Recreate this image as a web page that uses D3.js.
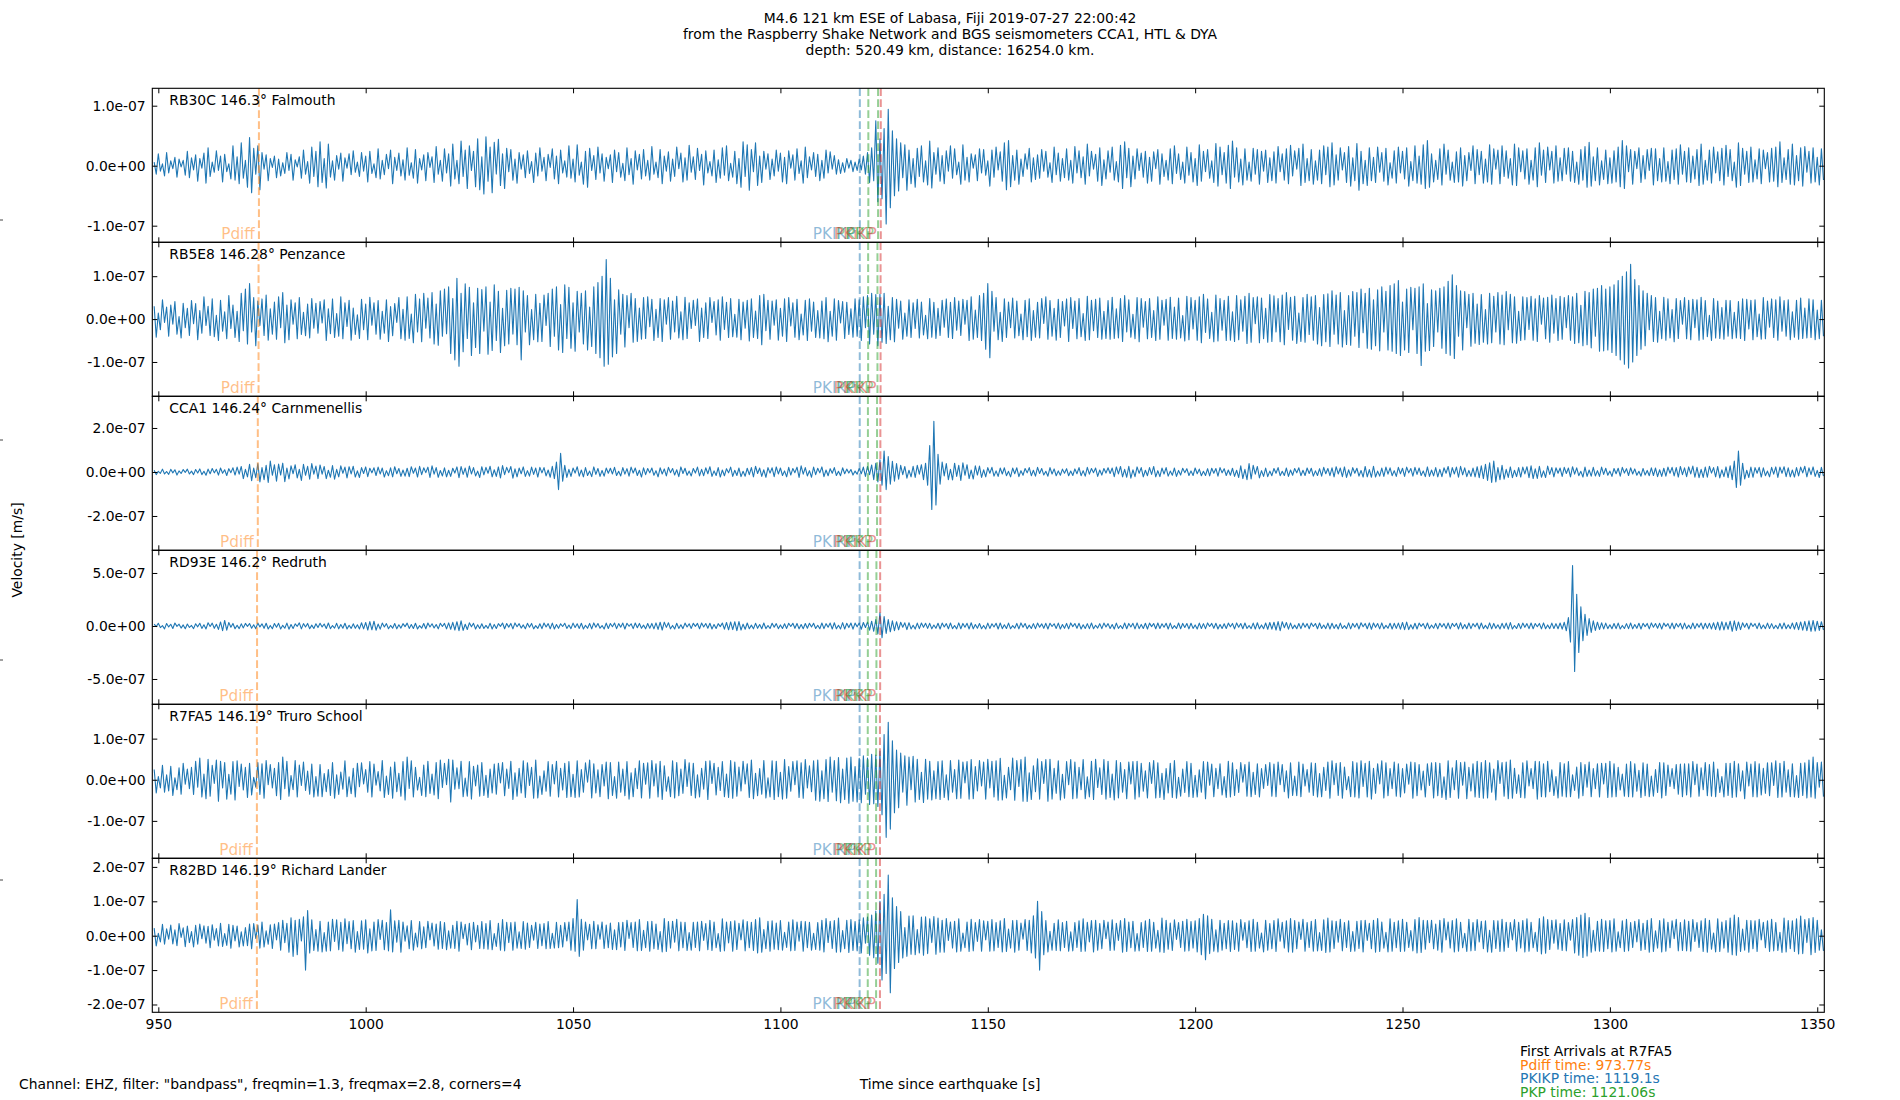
<!DOCTYPE html>
<html>
<head>
<meta charset="utf-8">
<script src="https://cdn.jsdelivr.net/npm/d3@7"></script>
<style>
  body { margin: 0; background: #fff; }
  svg { display: block; font-family: "DejaVu Sans", sans-serif; }
</style>
</head>
<body>
<div id="chart"></div>
<script>
// ---- chart data ----
const titleLines = [
  "M4.6 121 km ESE of Labasa, Fiji 2019-07-27 22:00:42",
  "from the Raspberry Shake Network and BGS seismometers CCA1, HTL & DYA",
  "depth: 520.49 km, distance: 16254.0 km."
];
const stationLabels = [
  "RB30C 146.3° Falmouth",
  "RB5E8 146.28° Penzance",
  "CCA1 146.24° Carnmenellis",
  "RD93E 146.2° Redruth",
  "R7FA5 146.19° Truro School",
  "R82BD 146.19° Richard Lander"
];
const xLimits = [948.55, 1351.7];
const xTicks = [950, 1000, 1050, 1100, 1150, 1200, 1250, 1300, 1350];
// velocity in nm/s (1e-9 m/s)
const yLimits = [[-127.7, 129], [-180, 179], [-356, 344], [-739, 714], [-191, 183.5], [-222.7, 225]];
const yTicks = [[-100, 0, 100], [-100, 0, 100], [-200, 0, 200], [-500, 0, 500], [-100, 0, 100], [-200, -100, 0, 100, 200]];
const yTickLabels = [
  ["-1.0e-07", "0.0e+00", "1.0e-07"],
  ["-1.0e-07", "0.0e+00", "1.0e-07"],
  ["-2.0e-07", "0.0e+00", "2.0e-07"],
  ["-5.0e-07", "0.0e+00", "5.0e-07"],
  ["-1.0e-07", "0.0e+00", "1.0e-07"],
  ["-2.0e-07", "-1.0e-07", "0.0e+00", "1.0e-07", "2.0e-07"]
];
const phaseNames = ["Pdiff", "PKIKP", "PKP", "PKP", "PKiKP"];
const phaseColors = ["#ff7f0e", "#1f77b4", "#2ca02c", "#2ca02c", "#d62728"];
const arrivals = [
  [974.26, 1119.15, 1121.2, 1123.55, 1124.2],
  [974.17, 1119.13, 1121.15, 1123.4, 1124.15],
  [973.99, 1119.12, 1121.1, 1123.3, 1124.1],
  [973.81, 1119.1, 1121.08, 1123.15, 1124.05],
  [973.77, 1119.1, 1121.06, 1123.07, 1124.0],
  [973.77, 1119.1, 1121.06, 1123.07, 1124.0]
];
const arrivalNotes = ["Pdiff time: 973.77s", "PKIKP time: 1119.1s", "PKP time: 1121.06s"];
const arrivalNoteColors = ["#ff7f0e", "#1f77b4", "#2ca02c"];
const footerText = 'Channel: EHZ, filter: "bandpass", freqmin=1.3, freqmax=2.8, corners=4';
const outerTicks = [0.2, 0.4, 0.6, 0.8];

// traces: samples every 0.5 s from 949 s, nm/s
const startTime = 949, sampleStep = 0.5;
const traceRB30C = [
  6,-14,20,-9,3,-17,22,-12,8,-5,14,-19,11,-2,9,-16,24,-20,13,-7,
  18,-26,12,-4,21,-29,30,-18,6,-11,25,-8,16,-27,19,-10,3,-22,33,-24,
  15,-30,38,-21,9,-36,47,-45,29,-14,33,-40,22,-6,18,-25,12,-3,16,-20,
  11,-17,5,-13,22,-8,19,-24,10,-2,15,-21,26,-14,7,-29,31,-18,24,-35,
  40,-28,12,-37,36,-19,8,-24,17,-6,21,-26,13,-4,20,-15,25,-11,6,-18,
  22,-9,16,-27,24,-13,3,-20,28,-22,9,-15,19,-5,26,-30,14,-8,21,-17,
  10,-24,30,-16,5,-21,27,-29,12,-7,18,-25,22,-3,15,-28,32,-14,9,-26,
  28,-12,20,-34,36,-22,9,-30,41,-18,26,-38,33,-8,24,-35,45,-40,15,-47,
  48,-26,31,-45,39,-14,44,-33,20,-38,29,-10,27,-24,11,-29,22,-6,18,-20,
  25,-13,7,-28,21,-17,30,-9,14,-25,19,-3,28,-22,16,-30,26,-12,8,-19,
  33,-21,11,-27,35,-16,6,-31,24,-36,29,-8,17,-23,31,-12,20,-26,14,-5,
  18,-28,26,-10,22,-19,4,-25,30,-15,12,-31,25,-7,19,-22,27,-17,9,-24,
  32,-14,6,-20,27,-30,16,-9,23,-26,11,-18,31,-5,21,-27,13,-24,34,-11,
  15,-23,29,-8,19,-32,25,-12,7,-17,26,-28,10,-21,30,-16,33,-25,4,-19,
  24,-30,12,-36,40,-18,35,-41,27,-10,38,-33,16,-28,24,-6,20,-23,11,-17,
  26,-9,21,-27,14,-30,25,-4,18,-24,28,-13,8,-29,31,-20,15,-7,22,-18,
  19,-25,9,-21,26,-12,23,-6,17,-14,10,-13,5,-11,12,-4,9,-10,6,-8,
  11,-7,16,-14,22,-28,30,-25,75,-60,45,-55,62,-97,94,-70,58,-50,45,-42,
  38,-20,35,-41,26,-30,12,-36,29,-18,33,-27,8,-32,41,-37,22,-14,30,-26,
  17,-30,25,-9,33,-21,28,-15,6,-31,35,-24,14,-27,20,-4,18,-25,28,-12,
  27,-16,8,-34,26,-19,31,-7,23,-26,38,-40,42,-35,17,-24,26,-31,11,-18,
  20,-6,29,-27,13,-23,18,-21,27,-9,24,-19,5,-28,31,-15,21,-26,12,-20,
  28,-24,9,-29,32,-12,25,-20,15,-31,36,-17,24,-6,19,-26,30,-33,10,-22,
  25,-11,31,-24,7,-27,34,-38,40,-20,29,-35,16,-22,28,-8,21,-19,24,-29,
  14,-26,23,-5,27,-31,20,-18,9,-24,28,-30,33,-13,20,-23,6,-29,31,-16,
  22,-27,12,-33,35,-26,24,-10,27,-21,8,-28,37,-34,31,-15,22,-29,34,-38,
  41,-19,30,-27,11,-32,28,-24,6,-26,29,-14,27,-31,24,-9,26,-28,13,-25,
  23,-29,32,-10,20,-24,28,-30,34,-17,25,-6,29,-33,36,-28,12,-25,27,-31,
  8,-24,26,-30,33,-15,31,-35,38,-32,18,-24,30,-7,22,-28,32,-34,13,-25,
  37,-41,24,-30,9,-33,30,-25,14,-28,31,-11,22,-26,29,-32,5,-21,25,-29,
  31,-12,24,-22,30,-34,7,-25,33,-29,16,-31,35,-38,42,-36,20,-27,9,-23,
  28,-32,36,-14,26,-24,6,-28,23,-27,30,-34,17,-25,22,-8,33,-30,27,-15,
  24,-29,11,-27,35,-31,28,-6,26,-30,33,-18,25,-21,12,-32,36,-33,30,-10,
  25,-22,28,-31,9,-24,30,-35,38,-16,26,-28,31,-7,24,-29,33,-26,13,-25,
  29,-14,30,-26,24,-28,6,-31,27,-24,32,-36,39,-34,15,-25,30,-32,8,-23,
  26,-30,13,-29,25,-27,31,-35,42,-38,33,-10,27,-31,24,-5,30,-28,17,-22,
  27,-8,29,-32,28,-25,12,-27,30,-26,7,-30,26,-23,28,-31,35,-14,24,-27,
  30,-28,16,-22,27,-33,36,-31,9,-24,26,-29,31,-12,23,-25,29,-32,34,-18,
  27,-25,6,-36,38,-33,29,-14,24,-28,31,-27,10,-22,28,-30,26,-5,22,-27,
  29,-26,31,-35,40,-28,13,-23,27,-31,36,-32,17,-25,30,-34,32,-11,24,-29,
  30,-27,14,-32,28,-24
];
const traceRB5E8 = [
  30,-42,14,-25,45,-8,28,-40,33,-12,41,-35,6,-44,37,-20,25,-38,43,-11,
  36,-48,20,-33,52,-15,30,-38,47,-41,9,-50,44,-28,17,-46,55,-22,33,-43,
  18,-52,60,-27,70,-58,83,-30,50,-62,42,-15,47,-38,56,-49,24,-35,40,-47,
  52,-20,62,-55,33,-48,45,-12,38,-46,50,-36,16,-39,35,-44,48,-21,37,-33,
  41,-9,45,-50,24,-34,47,-43,13,-40,52,-46,38,-17,44,-49,26,-36,10,-45,
  46,-25,35,-48,51,-14,38,-35,43,-47,18,-33,45,-52,29,-39,36,-8,50,-46,
  23,-49,52,-45,12,-55,58,-30,47,-53,60,-21,49,-44,62,-58,35,-61,66,-40,
  70,-34,75,-80,48,-95,95,-110,60,-76,82,-45,74,-85,38,-66,72,-80,69,-28,
  75,-82,40,-73,80,-50,65,-78,25,-62,67,-58,72,-35,70,-60,74,-95,66,-30,
  55,-60,22,-48,58,-53,37,-52,56,-15,60,-64,70,-40,75,-72,34,-78,80,-45,
  74,-68,38,-75,65,-30,60,-58,66,-72,28,-64,75,-80,85,-90,100,-110,139,-105,
  95,-88,45,-80,68,-35,58,-65,55,-20,60,-54,48,-52,26,-47,50,-45,52,-18,
  46,-50,23,-43,48,-52,45,-12,50,-47,42,-30,53,-44,17,-48,51,-45,38,-22,
  44,-15,47,-52,26,-43,38,-45,50,-8,41,-37,45,-49,52,-24,39,-43,48,-41,
  11,-42,46,-48,40,-21,44,-51,47,-43,19,-45,55,-60,58,-27,44,-47,42,-14,
  45,-49,25,-40,47,-52,50,-16,38,-42,46,-48,12,-37,44,-50,47,-28,40,-43,
  20,-44,42,-46,50,-53,18,-40,47,-49,43,-9,41,-45,39,-36,24,-42,47,-40,
  45,-50,52,-20,55,-58,60,-35,57,-62,58,-54,60,-57,30,-48,50,-53,46,-21,
  42,-47,14,-40,45,-43,38,-22,46,-44,40,-37,9,-46,48,-42,39,-45,25,-38,
  44,-19,47,-43,39,-45,50,-26,42,-38,46,-12,44,-50,52,-47,21,-43,55,-50,
  60,-70,83,-90,65,-28,50,-48,16,-52,47,-43,40,-20,49,-44,42,-39,12,-48,
  44,-41,47,-50,20,-42,39,-44,48,-10,52,-47,43,-40,25,-49,46,-43,41,-16,
  47,-52,50,-22,42,-46,48,-41,13,-50,53,-48,44,-27,46,-43,49,-47,18,-45,
  43,-47,51,-45,24,-44,48,-52,55,-30,45,-42,11,-46,50,-53,48,-19,41,-46,
  48,-43,20,-50,52,-47,44,-14,46,-49,51,-45,28,-47,49,-44,8,-51,53,-48,
  50,-23,44,-49,52,-55,58,-31,47,-45,16,-53,56,-51,48,-26,44,-50,53,-49,
  17,-52,55,-48,45,-28,53,-57,60,-54,50,-11,52,-55,49,-46,25,-54,57,-52,
  54,-30,48,-53,56,-60,62,-24,51,-49,53,-57,14,-52,50,-54,58,-36,52,-49,
  55,-58,27,-62,57,-53,59,-64,66,-35,56,-58,62,-65,20,-59,55,-61,64,-40,
  62,-66,70,-32,60,-68,72,-70,45,-62,68,-74,75,-30,65,-72,78,-75,82,-80,
  90,-85,40,-72,70,-78,74,-25,72,-80,75,-108,82,-75,36,-73,68,-64,66,-30,
  72,-68,75,-80,88,-84,103,-92,78,-40,66,-72,64,-20,58,-63,60,-56,35,-59,
  57,-54,22,-58,60,-55,53,-30,62,-58,56,-60,64,-25,58,-55,52,-56,18,-50,
  52,-48,50,-24,53,-49,47,-52,55,-12,49,-46,51,-54,56,-33,48,-50,53,-47,
  50,-20,55,-49,52,-57,60,-55,32,-62,65,-60,62,-67,70,-40,72,-75,78,-74,
  70,-72,75,-78,80,-85,90,-95,100,-105,110,-114,128,-100,92,-85,78,-70,66,-62,
  60,-25,55,-52,50,-54,18,-46,51,-49,47,-44,22,-53,48,-45,43,-12,50,-46,
  44,-48,46,-20,45,-49,51,-47,43,-41,9,-50,48,-44,42,-45,27,-47,44,-40,
  43,-46,16,-44,41,-45,47,-50,46,-23,44,-48,45,-41,12,-47,50,-46,42,-19,
  47,-43,45,-49,52,-28,43,-40,45,-48,17,-42,44,-47,49,-45,26,-44,47,-43,
  45,-48,21,-46,44,-40
];
const traceCCA1 = [
  8,-12,3,-6,13,-9,2,-11,12,-4,10,-14,5,-7,11,-2,13,-9,4,-12,
  11,-5,14,-12,3,-15,13,-8,16,-4,12,-14,18,-6,10,-16,15,-3,19,-14,
  22,-10,25,-30,12,-22,35,-40,18,-26,38,-45,20,-35,30,-48,50,-15,33,-42,
  36,-14,40,-44,18,-32,28,-8,33,-27,12,-38,35,-15,26,-33,38,-10,27,-30,
  32,-10,25,-30,8,-24,29,-33,12,-22,28,-6,22,-27,24,-9,26,-23,5,-25,
  20,-7,23,-21,17,-4,19,-16,22,-9,18,-23,6,-17,19,-22,24,-8,16,-20,
  9,-19,17,-21,24,-6,18,-23,26,-12,19,-3,22,-25,28,-10,20,-24,7,-18,
  19,-22,8,-20,17,-5,23,-26,25,-11,18,-24,27,-9,20,-18,4,-25,24,-13,
  21,-6,26,-22,10,-20,23,-27,29,-12,21,-3,25,-28,14,-22,18,-8,23,-20,
  6,-19,22,-11,18,-23,21,-4,20,-18,9,-24,26,-30,45,-80,85,-42,30,-25,
  12,-20,18,-5,24,-19,9,-22,20,-16,4,-21,23,-11,16,-20,7,-19,18,-6,
  17,-9,21,-16,3,-18,20,-10,15,-19,22,-5,18,-16,8,-23,19,-12,16,-4,
  18,-15,6,-22,19,-9,14,-18,21,-3,16,-14,10,-21,23,-7,17,-15,4,-18,
  16,-5,22,-18,12,-17,19,-8,24,-20,5,-16,20,-23,9,-17,15,-4,22,-20,
  8,-16,18,-21,3,-19,17,-12,20,-22,26,-7,18,-20,10,-24,20,-5,19,-21,
  23,-9,18,-16,5,-22,21,-14,16,-3,22,-25,28,-10,20,-18,6,-24,22,-12,
  17,-4,23,-21,9,-17,15,-6,20,-16,3,-17,19,-8,13,-5,11,-14,4,-10,
  16,-8,22,-20,25,-12,32,-35,40,-45,55,-60,95,-80,70,-55,48,-42,38,-33,
  30,-12,25,-28,8,-22,26,-25,30,-10,33,-35,40,-60,120,-170,230,-150,80,-55,
  45,-18,38,-35,12,-36,40,-20,30,-38,42,-15,33,-30,9,-32,28,-14,27,-25,
  10,-22,20,-6,21,-19,5,-20,18,-9,19,-17,3,-22,18,-8,19,-21,6,-15,
  16,-4,20,-17,8,-19,21,-7,16,-14,3,-19,20,-9,14,-17,5,-15,13,-6,
  15,-17,4,-16,14,-8,20,-17,6,-19,21,-10,16,-3,18,-20,9,-14,16,-5,
  19,-7,18,-21,23,-9,25,-22,12,-24,26,-28,10,-21,23,-6,20,-22,8,-17,
  20,-11,25,-22,6,-21,18,-9,20,-19,4,-15,18,-20,7,-14,17,-3,15,-16,
  5,-16,18,-8,13,-17,3,-16,15,-18,17,-6,16,-19,20,-4,15,-16,9,-15,
  17,-20,8,-25,28,-30,12,-35,38,-32,30,-10,25,-27,6,-20,18,-21,4,-17,
  16,-6,20,-17,3,-16,18,-20,9,-15,16,-4,19,-17,8,-16,18,-7,17,-19,
  5,-16,15,-19,21,-8,16,-17,19,-22,24,-9,18,-21,23,-25,10,-19,20,-6,
  17,-19,7,-23,25,-22,11,-24,26,-23,4,-19,18,-20,22,-10,19,-17,6,-20,
  21,-8,17,-20,22,-4,16,-19,21,-11,18,-16,5,-21,23,-20,9,-18,20,-22,
  12,-21,19,-6,25,-23,20,-9,22,-24,26,-13,19,-21,7,-20,18,-22,24,-26,
  28,-30,35,-38,42,-48,50,-45,20,-35,30,-33,12,-25,23,-26,8,-21,20,-23,
  22,-9,24,-26,28,-30,14,-29,26,-24,5,-25,27,-11,20,-22,19,-6,18,-20,
  21,-7,18,-22,24,-10,19,-17,3,-23,22,-20,9,-19,21,-18,6,-20,22,-11,
  17,-15,4,-20,16,-8,17,-19,21,-5,15,-16,19,-9,14,-15,3,-19,16,-14,
  7,-17,19,-16,18,-21,10,-20,17,-19,22,-6,21,-18,20,-23,25,-12,19,-21,
  23,-9,27,-24,21,-26,12,-25,22,-24,26,-5,20,-22,25,-27,10,-21,23,-26,
  28,-35,50,-70,95,-60,40,-32,8,-25,22,-24,20,-6,21,-23,19,-17,4,-22,
  21,-10,23,-25,22,-6,24,-21,19,-22,9,-23,20,-18,22,-4,26,-22,19,-12,
  23,-20,7,-25,21,-19
];
const traceRD93E = [
  18,-6,25,-15,3,-27,23,-9,16,-24,28,-4,17,-20,10,-26,19,-14,5,-25,
  21,-8,26,-23,12,-28,30,-5,27,-22,16,-32,38,-45,52,-40,33,-12,24,-26,
  7,-25,20,-18,24,-4,23,-21,11,-25,28,-9,20,-22,26,-29,5,-26,23,-12,
  25,-28,6,-21,27,-30,13,-23,20,-3,29,-27,22,-10,24,-26,8,-24,21,-15,
  26,-9,19,-24,28,-25,4,-20,25,-27,14,-21,26,-29,7,-23,20,-22,12,-28,
  30,-27,33,-38,42,-36,45,-40,18,-30,27,-10,22,-26,5,-21,23,-27,11,-20,
  22,-6,27,-23,13,-24,26,-28,3,-21,23,-26,28,-9,21,-19,14,-27,26,-5,
  24,-27,29,-31,34,-38,40,-44,48,-42,16,-33,30,-8,25,-28,12,-23,21,-24,
  6,-23,25,-28,15,-24,22,-4,28,-26,23,-11,24,-27,29,-7,22,-20,10,-26,
  25,-12,24,-27,3,-23,21,-25,28,-9,22,-26,27,-29,13,-22,20,-5,26,-23,
  9,-25,27,-14,21,-23,26,-28,6,-22,24,-27,29,-12,23,-21,4,-28,27,-24,
  23,-7,28,-25,22,-11,27,-29,26,-3,21,-25,28,-16,24,-22,8,-27,23,-21,
  24,-27,29,-32,35,-38,36,-13,30,-27,5,-28,26,-23,12,-25,27,-9,21,-23,
  25,-4,24,-26,28,-10,23,-21,26,-29,15,-24,22,-6,28,-30,33,-36,38,-34,
  40,-44,42,-38,17,-31,28,-26,8,-27,25,-22,13,-26,28,-25,4,-24,26,-11,
  22,-25,10,-24,21,-23,26,-5,25,-22,24,-27,14,-26,23,-21,25,-9,26,-24,
  7,-26,28,-25,22,-12,27,-29,30,-27,6,-28,31,-29,26,-15,28,-30,27,-8,
  28,-31,33,-14,36,-40,45,-50,60,-75,125,-110,90,-70,60,-55,48,-44,40,-36,
  35,-12,30,-34,31,-28,6,-29,27,-25,28,-13,26,-23,25,-27,9,-22,26,-28,
  27,-10,22,-26,28,-25,4,-27,29,-26,24,-12,25,-28,30,-27,14,-21,23,-26,
  5,-28,27,-23,21,-9,26,-29,28,-25,11,-24,27,-26,3,-21,24,-27,29,-13,
  23,-26,8,-24,22,-25,27,-11,20,-22,25,-28,26,-5,21,-23,27,-29,14,-22,
  24,-27,29,-6,23,-21,25,-28,12,-24,22,-25,28,-26,7,-20,22,-25,27,-10,
  22,-24,13,-29,27,-23,4,-25,28,-26,24,-9,25,-27,29,-25,15,-24,26,-28,
  27,-6,23,-26,28,-24,21,-12,26,-29,27,-25,3,-24,28,-26,24,-14,23,-27,
  26,-23,10,-28,27,-24,22,-25,29,-5,24,-22,26,-28,13,-23,21,-24,27,-8,
  24,-27,29,-12,23,-26,28,-24,5,-25,27,-29,30,-27,10,-26,28,-31,33,-30,
  35,-38,42,-45,40,-16,33,-30,27,-25,8,-26,23,-25,27,-12,22,-26,28,-5,
  23,-26,28,-24,9,-25,27,-29,26,-23,14,-28,27,-24,3,-25,29,-27,24,-11,
  25,-28,30,-7,24,-26,29,-31,28,-13,23,-27,29,-26,6,-22,26,-28,25,-23,
  27,-30,33,-35,37,-34,12,-28,26,-29,27,-4,22,-25,28,-26,9,-21,24,-27,
  26,-10,22,-25,28,-27,24,-5,25,-28,30,-27,14,-26,28,-25,22,-8,27,-29,
  28,-25,6,-26,29,-27,24,-22,11,-28,25,-23,27,-30,32,-29,4,-24,23,-25,
  27,-13,22,-25,28,-26,23,-7,24,-27,29,-26,10,-25,27,-24,22,-26,28,-30,
  35,-45,80,-150,570,-430,300,-250,180,-140,110,-90,70,-60,48,-42,36,-33,30,-28,
  27,-25,11,-26,23,-25,27,-29,5,-24,22,-25,28,-27,14,-22,26,-28,25,-6,
  24,-27,29,-12,23,-21,25,-28,27,-4,22,-25,28,-26,24,-10,26,-29,27,-25,
  8,-26,28,-25,22,-13,27,-29,26,-23,25,-28,30,-33,36,-38,40,-37,34,-31,
  45,-50,48,-42,38,-34,30,-12,26,-29,27,-5,22,-25,28,-26,9,-25,27,-24,
  22,-25,7,-26,24,-27,29,-26,12,-25,28,-30,33,-35,38,-40,43,-45,48,-50,
  52,-48,45,-42,40,-38
];
const traceR7FA5 = [
  25,-32,8,-20,35,-30,12,-27,33,-38,5,-24,29,-35,40,-11,26,-22,30,-36,
  45,-18,53,-42,14,-46,50,-40,35,-9,48,-52,45,-20,42,-47,13,-35,44,-49,
  46,-16,38,-25,30,-43,40,-37,6,-18,42,-36,39,-45,47,-12,37,-20,28,-39,
  42,-48,55,-22,45,-40,10,-24,47,-42,36,-14,43,-26,21,-35,38,-42,8,-40,
  37,-41,15,-29,25,-38,42,-45,12,-36,19,-23,46,-41,7,-34,28,-42,40,-17,
  41,-10,25,-30,44,-42,38,-13,20,-27,47,-43,9,-36,31,-45,43,-29,16,-40,
  44,-49,55,-21,46,-42,30,-25,6,-38,36,-41,45,-33,14,-37,42,-46,48,-19,
  40,-12,50,-54,48,-23,29,-22,45,-41,4,-40,44,-47,33,-15,36,-40,42,-38,
  11,-43,26,-32,38,-35,40,-8,42,-39,26,-21,45,-48,17,-40,28,-32,46,-43,
  41,-14,30,-45,48,-44,9,-36,22,-28,44,-40,37,-10,45,-42,28,-25,40,-43,
  44,-41,13,-43,46,-42,25,-30,41,-6,48,-44,39,-32,24,-41,37,-15,43,-46,
  42,-38,8,-45,43,-30,26,-39,44,-47,17,-41,28,-22,46,-44,40,-11,41,-45,
  47,-15,39,-42,45,-48,34,-28,7,-41,46,-44,42,-39,26,-33,49,-16,41,-38,
  40,-44,12,-42,28,-23,45,-48,46,-9,40,-37,30,-26,44,-41,14,-43,47,-45,
  43,-40,31,-27,45,-10,39,-43,48,-46,16,-39,27,-35,47,-44,5,-42,46,-48,
  45,-41,18,-47,49,-45,32,-28,44,-12,46,-43,41,-45,49,-20,34,-29,46,-50,
  48,-52,22,-46,49,-53,55,-30,47,-51,54,-56,26,-48,53,-57,55,-52,32,-54,
  52,-56,58,-35,53,-60,62,-58,60,-65,70,-85,110,-140,140,-120,95,-80,72,-68,
  65,-30,58,-62,55,-24,57,-54,50,-48,18,-55,50,-47,45,-49,22,-46,44,-48,
  46,-43,12,-49,47,-30,25,-46,48,-45,43,-8,44,-47,49,-46,32,-27,47,-15,
  43,-47,50,-20,45,-42,46,-50,52,-49,11,-44,30,-24,53,-50,47,-16,49,-52,
  55,-53,17,-48,34,-29,51,-47,44,-9,49,-52,50,-47,28,-33,46,-49,13,-45,
  44,-12,49,-46,43,-45,30,-24,49,-46,7,-42,45,-48,50,-19,29,-36,49,-47,
  45,-43,14,-49,47,-44,42,-30,25,-46,43,-10,44,-47,45,-42,40,-28,22,-44,
  42,-9,47,-44,41,-43,16,-48,27,-32,40,-43,47,-45,6,-40,26,-31,44,-41,
  40,-43,11,-42,24,-30,44,-46,43,-13,38,-41,28,-22,39,-37,8,-43,45,-42,
  41,-38,25,-31,42,-6,37,-40,43,-41,18,-36,39,-42,27,-21,37,-14,42,-40,
  38,-41,43,-12,37,-29,22,-44,41,-38,9,-39,43,-41,38,-15,25,-30,41,-38,
  40,-42,15,-41,30,-26,43,-45,46,-12,40,-38,42,-45,31,-24,8,-41,44,-42,
  41,-44,46,-16,40,-42,45,-47,28,-33,39,-10,46,-44,41,-39,27,-22,43,-40,
  39,-42,27,-32,38,-11,43,-45,42,-39,37,-25,21,-42,39,-14,41,-44,42,-39,
  40,-43,7,-48,46,-43,29,-24,47,-45,42,-13,43,-46,30,-27,39,-42,45,-43,
  42,-45,47,-44,41,-30,26,-49,47,-9,42,-40,43,-46,48,-45,28,-33,12,-43,
  41,-44,46,-15,27,-22,45,-47,44,-41,39,-42,45,-29,24,-38,8,-44,42,-40,
  39,-42,44,-41,12,-26,31,-45,42,-39,37,-18,43,-41,27,-22,39,-42,40,-10,
  40,-43,45,-42,39,-41,30,-25,14,-40,38,-41,44,-42,39,-28,23,-43,41,-39,
  38,-41,9,-40,25,-31,42,-44,41,-38,36,-16,27,-22,37,-35,38,-41,39,-37,
  39,-42,44,-12,38,-40,29,-24,42,-39,37,-40,43,-41,26,-31,8,-42,40,-38,
  40,-43,45,-42,39,-27,22,-46,43,-15,38,-41,44,-42,39,-37,28,-33,41,-39,
  41,-14,46,-43,40,-42,45,-30,24,-41,39,-42,10,-43,40,-38,41,-44,48,-42,
  55,-45,42,-18,43,-41
];
const traceR82BD = [
  22,-30,7,-18,33,-25,20,-10,31,-24,17,-29,35,-5,23,-32,28,-20,12,-33,
  30,-25,34,-9,29,-22,27,-35,32,-13,21,-30,36,-31,6,-28,33,-36,30,-15,
  28,-33,11,-30,24,-29,34,-38,35,-8,31,-36,40,-33,14,-25,32,-37,34,-12,
  38,-42,45,-20,36,-48,52,-60,45,-55,48,-15,55,-100,73,-50,46,-43,18,-45,
  42,-47,9,-45,40,-44,48,-17,46,-41,39,-45,49,-23,41,-38,44,-48,12,-40,
  43,-39,46,-50,20,-44,40,-43,47,-11,45,-41,38,-44,75,-47,43,-19,45,-48,
  40,-16,29,-38,44,-42,8,-33,41,-38,26,-35,42,-12,37,-30,34,-39,41,-37,
  38,-41,14,-36,30,-37,42,-45,40,-9,33,-27,36,-41,39,-18,30,-37,41,-38,
  35,-39,44,-41,6,-31,36,-42,47,-44,39,-20,38,-42,40,-36,11,-37,41,-39,
  37,-34,30,-13,39,-37,34,-29,35,-38,41,-37,7,-36,39,-35,30,-33,38,-15,
  40,-42,50,-45,105,-60,48,-42,40,-12,33,-38,42,-38,32,-10,40,-37,31,-35,
  37,-40,17,-41,38,-33,39,-43,45,-8,38,-34,40,-44,47,-43,16,-35,41,-45,
  42,-38,34,-40,12,-47,50,-46,41,-36,42,-19,48,-44,40,-35,39,-43,9,-42,
  39,-34,40,-44,42,-14,35,-41,45,-43,40,-35,6,-46,49,-44,40,-21,41,-45,
  43,-40,36,-12,46,-44,41,-35,39,-43,47,-50,52,-48,18,-38,42,-45,43,-39,
  37,-41,44,-42,10,-34,40,-44,46,-43,40,-16,42,-45,41,-35,39,-42,7,-40,
  38,-42,45,-47,50,-20,42,-37,44,-48,51,-47,15,-38,45,-49,47,-43,41,-44,
  46,-50,52,-22,54,-57,60,-64,72,-80,100,-129,120,-110,176,-166,110,-95,85,-78,
  70,-65,24,-60,57,-54,58,-55,18,-50,54,-57,55,-52,49,-20,56,-54,51,-48,
  45,-48,50,-14,40,-36,42,-47,49,-45,8,-35,40,-46,48,-44,38,-17,47,-45,
  43,-12,42,-45,47,-44,38,-34,43,-47,50,-46,19,-36,44,-48,45,-42,37,-10,
  47,-43,45,-50,58,-65,100,-100,70,-55,44,-47,13,-42,36,-43,46,-44,38,-34,
  42,-45,11,-44,38,-34,43,-46,49,-45,39,-18,44,-47,45,-42,35,-38,45,-9,
  40,-43,46,-42,36,-14,44,-48,50,-46,40,-35,42,-45,6,-44,38,-34,43,-46,
  48,-45,39,-36,16,-47,51,-49,45,-39,37,-43,46,-11,38,-34,42,-45,48,-44,
  41,-36,43,-47,50,-55,62,-70,58,-52,48,-45,17,-47,45,-42,36,-38,44,-46,
  43,-40,37,-45,47,-13,38,-35,43,-46,48,-45,39,-36,8,-47,45,-42,35,-38,
  44,-46,49,-16,39,-36,43,-47,50,-48,44,-38,40,-11,48,-45,38,-34,42,-45,
  47,-44,9,-43,46,-49,51,-47,43,-37,42,-19,48,-44,38,-34,43,-46,12,-45,
  42,-37,44,-47,45,-14,36,-38,45,-48,50,-46,40,-36,10,-47,49,-45,39,-35,
  43,-46,48,-45,39,-34,15,-44,47,-50,53,-49,45,-39,44,-20,45,-38,34,-42,
  45,-48,50,-12,40,-36,44,-47,49,-45,39,-35,7,-46,48,-44,38,-43,47,-18,
  42,-38,43,-47,16,-48,44,-37,43,-46,48,-45,39,-34,38,-12,47,-45,39,-36,
  44,-47,49,-45,39,-35,10,-46,50,-53,55,-51,47,-40,45,-22,46,-39,35,-43,
  46,-44,38,-13,47,-50,53,-57,60,-63,65,-59,53,-48,16,-44,42,-45,48,-46,
  43,-38,44,-47,49,-45,11,-35,43,-46,48,-44,38,-34,42,-18,47,-43,36,-40,
  45,-48,50,-46,14,-36,44,-47,49,-45,39,-35,43,-9,48,-44,38,-43,46,-44,
  42,-45,47,-17,38,-34,43,-46,50,-48,45,-39,8,-47,49,-46,40,-36,44,-48,
  51,-55,60,-57,53,-46,19,-42,45,-48,44,-38,43,-46,48,-12,39,-35,43,-46,
  48,-44,38,-43,10,-49,51,-47,44,-38,43,-46,49,-53,57,-52,47,-20,50,-55,
  53,-49,45,-42,17,-44
];
const traces = [traceRB30C, traceRB5E8, traceCCA1, traceRD93E, traceR7FA5, traceR82BD];

// ---- drawing ----
const W = 1900, H = 1100;
const plotLeft = 152.3, plotRight = 1824.3, plotTop = 88.3, plotBottom = 1012.3;
const panelH = (plotBottom - plotTop) / traces.length;
const font = "DejaVu Sans";

const svg = d3.select("#chart").append("svg")
  .attr("width", W)
  .attr("height", H);

svg.append("rect").attr("width", W).attr("height", H).attr("fill", "#fff");

const x = d3.scaleLinear().domain(xLimits).range([plotLeft, plotRight]);

// Title
svg.append("g").selectAll("text")
  .data(titleLines)
  .join("text")
  .attr("x", W / 2)
  .attr("y", (d, i) => 23 + i * 16)
  .attr("text-anchor", "middle")
  .attr("font-size", "13.9px")
  .attr("fill", "#000")
  .text(d => d);

function styleAxis(sel) {
  sel.attr("font-family", font).attr("font-size", "13.9px");
  sel.select(".domain").remove();
  sel.selectAll(".tick line").attr("stroke", "#000").attr("stroke-width", 1);
  sel.selectAll(".tick text").attr("fill", "#000");
}

traces.forEach((trace, i) => {
  const top = plotTop + i * panelH;
  const bottom = top + panelH;
  const y = d3.scaleLinear().domain(yLimits[i]).range([bottom, top]);
  const g = svg.append("g");

  const clipId = "clip" + i;
  svg.append("clipPath").attr("id", clipId)
    .append("rect")
    .attr("x", plotLeft).attr("y", top)
    .attr("width", plotRight - plotLeft).attr("height", panelH);

  const line = d3.line()
    .x((d, j) => x(startTime + j * sampleStep))
    .y(d => y(d));

  g.append("path")
    .datum(trace)
    .attr("clip-path", `url(#${clipId})`)
    .attr("fill", "none")
    .attr("stroke", "#1f77b4")
    .attr("stroke-width", 1.1)
    .attr("stroke-linejoin", "round")
    .attr("d", line);

  // arrival markers
  arrivals[i].forEach((t, k) => {
    g.append("line")
      .attr("x1", x(t)).attr("x2", x(t))
      .attr("y1", top).attr("y2", bottom)
      .attr("stroke", phaseColors[k])
      .attr("stroke-opacity", 0.5)
      .attr("stroke-width", 2)
      .attr("stroke-dasharray", "7.7,3.3");
  });
  arrivals[i].forEach((t, k) => {
    g.append("text")
      .attr("x", x(t) - 4)
      .attr("y", bottom - 3.6)
      .attr("text-anchor", "end")
      .attr("font-size", "15.3px")
      .attr("fill", phaseColors[k])
      .attr("fill-opacity", 0.5)
      .text(phaseNames[k]);
  });

  // axes, ticks pointing in
  g.append("g")
    .attr("transform", `translate(${plotLeft},0)`)
    .call(d3.axisLeft(y).tickValues(yTicks[i])
      .tickFormat((d, k) => yTickLabels[i][k])
      .tickSizeInner(-5).tickSizeOuter(0).tickPadding(6.6))
    .call(styleAxis);

  g.append("g")
    .attr("transform", `translate(${plotRight},0)`)
    .call(d3.axisRight(y).tickValues(yTicks[i]).tickFormat("")
      .tickSizeInner(-5).tickSizeOuter(0))
    .call(styleAxis);

  g.append("g")
    .attr("transform", `translate(0,${top})`)
    .call(d3.axisTop(x).tickValues(xTicks).tickFormat("")
      .tickSizeInner(-5).tickSizeOuter(0))
    .call(styleAxis);

  const last = i === traces.length - 1;
  g.append("g")
    .attr("transform", `translate(0,${bottom})`)
    .call(d3.axisBottom(x).tickValues(xTicks)
      .tickFormat(last ? d3.format("d") : "")
      .tickSizeInner(-5).tickSizeOuter(0).tickPadding(6.5))
    .call(styleAxis);

  g.append("rect")
    .attr("x", plotLeft).attr("y", top)
    .attr("width", plotRight - plotLeft).attr("height", panelH)
    .attr("fill", "none")
    .attr("stroke", "#000")
    .attr("stroke-width", 1.1);

  g.append("text")
    .attr("x", plotLeft + 17)
    .attr("y", top + 17)
    .attr("font-size", "13.9px")
    .attr("fill", "#000")
    .text(stationLabels[i]);
});

// Axis titles
svg.append("text")
  .attr("transform", `translate(21.5,${H / 2}) rotate(-90)`)
  .attr("text-anchor", "middle")
  .attr("font-size", "13.9px")
  .attr("fill", "#000")
  .text("Velocity [m/s]");

svg.append("text")
  .attr("x", W / 2)
  .attr("y", 1088.5)
  .attr("text-anchor", "middle")
  .attr("font-size", "13.9px")
  .attr("fill", "#000")
  .text("Time since earthquake [s]");

svg.append("text")
  .attr("x", 19)
  .attr("y", 1088.5)
  .attr("font-size", "13.9px")
  .attr("fill", "#000")
  .text(footerText);

// First arrivals note
const note = svg.append("g").attr("font-size", "13.9px");
note.append("text")
  .attr("x", 1520).attr("y", 1055.5)
  .attr("fill", "#000")
  .text("First Arrivals at R7FA5");
note.selectAll("text.arr")
  .data(arrivalNotes)
  .join("text")
  .attr("class", "arr")
  .attr("x", 1520)
  .attr("y", (d, i) => 1069.5 + i * 13.5)
  .attr("fill", (d, i) => arrivalNoteColors[i])
  .text(d => d);

// stray ticks of the hidden figure-level axis at the far left
const figY = d3.scaleLinear().domain([0, 1]).range([H, 0]);
svg.append("g").selectAll("line")
  .data(outerTicks)
  .join("line")
  .attr("x1", 0).attr("x2", 3)
  .attr("y1", d => figY(d)).attr("y2", d => figY(d))
  .attr("stroke", "#444")
  .attr("stroke-width", 1);
</script>
</body>
</html>
